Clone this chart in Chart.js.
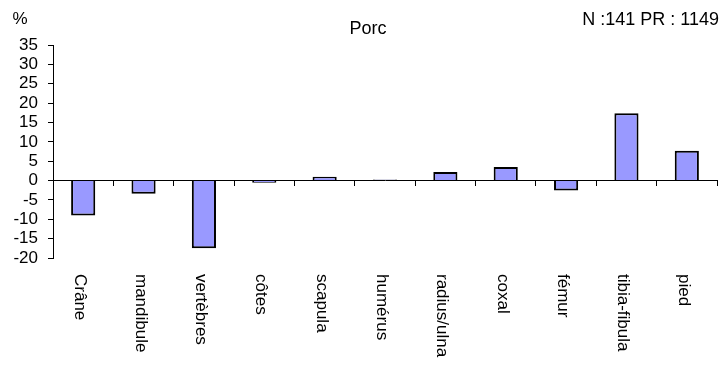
<!DOCTYPE html>
<html>
<head>
<meta charset="utf-8">
<script src="https://cdn.jsdelivr.net/npm/chart.js@4"></script>
<style>
  html, body { margin: 0; padding: 0; background: #fff; }
  #wrap { width: 722px; height: 367px; position: relative; }
</style>
</head>
<body>
<div id="wrap"><canvas id="chart"></canvas></div>
<script>
// data
const categories = ["Crâne", "mandibule", "vertèbres", "côtes", "scapula", "humérus",
                    "radius/ulna", "coxal", "fémur", "tibia-fibula", "pied"];
const values = [-9.0, -3.4, -17.5, -0.6, 1.0, 0.3, 2.2, 3.5, -2.6, 17.4, 7.7];
const yTicks = [-20, -15, -10, -5, 0, 5, 10, 15, 20, 25, 30, 35];
const titleText = "Porc";
const countText = "N :141 PR : 1149";
const unitText = "%";

const FONT = "'Liberation Sans', Arial, sans-serif";

// texts + rotated category labels (read top to bottom)
const textPlugin = {
    id: "texts",
    afterDraw(chart) {
        const c = chart.ctx;
        const xs = chart.scales.x;
        c.save();
        c.fillStyle = "#000";
        c.font = "18px " + FONT;
        c.textBaseline = "middle";
        c.textAlign = "center";
        c.fillText(titleText, 368, 29);
        c.textAlign = "right";
        c.fillText(countText, 719, 20);
        c.textAlign = "center";
        c.font = "17px " + FONT;
        c.fillText(unitText, 20, 19);

        c.font = "17px " + FONT;
        c.textAlign = "left";
        c.textBaseline = "alphabetic";
        categories.forEach((lab, i) => {
            const x = xs.getPixelForValue(i) - 8;
            c.save();
            c.translate(x, 274);
            c.rotate(Math.PI / 2);
            c.fillText(lab, 0, 0);
            c.restore();
        });
        c.restore();
    }
};

new Chart(document.getElementById("chart"), {
    type: "bar",
    data: {
        labels: categories,
        datasets: [{
            data: values,
            backgroundColor: "#9999FF",
            borderColor: "#000",
            borderWidth: 2,
            barPercentage: 0.4,
            categoryPercentage: 1.0
        }]
    },
    options: {
        responsive: true,
        maintainAspectRatio: false,
        animation: false,
        layout: { padding: { top: 45, right: 5, bottom: 109, left: 0 } },
        plugins: {
            legend: { display: false },
            title: { display: false },
            tooltip: { enabled: false }
        },
        scales: {
            x: {
                position: { y: 0 },
                offset: true,
                ticks: { display: false },
                grid: {
                    display: true,
                    drawOnChartArea: false,
                    drawTicks: true,
                    tickLength: 5,
                    color: "#000",
                    offset: true
                },
                border: { display: true, color: "#000", width: 1 }
            },
            y: {
                min: -20,
                max: 35,
                afterBuildTicks: scale => { scale.ticks = yTicks.map(v => ({ value: v })); },
                afterFit: scale => { scale.width = 53; },
                ticks: {
                    color: "#000",
                    font: { family: FONT, size: 17 },
                    padding: 10,
                    autoSkip: false
                },
                grid: {
                    display: true,
                    drawOnChartArea: false,
                    drawTicks: true,
                    tickLength: 5,
                    color: "#000"
                },
                border: { display: true, color: "#000", width: 1 }
            }
        }
    },
    plugins: [textPlugin]
});
</script>
</body>
</html>
